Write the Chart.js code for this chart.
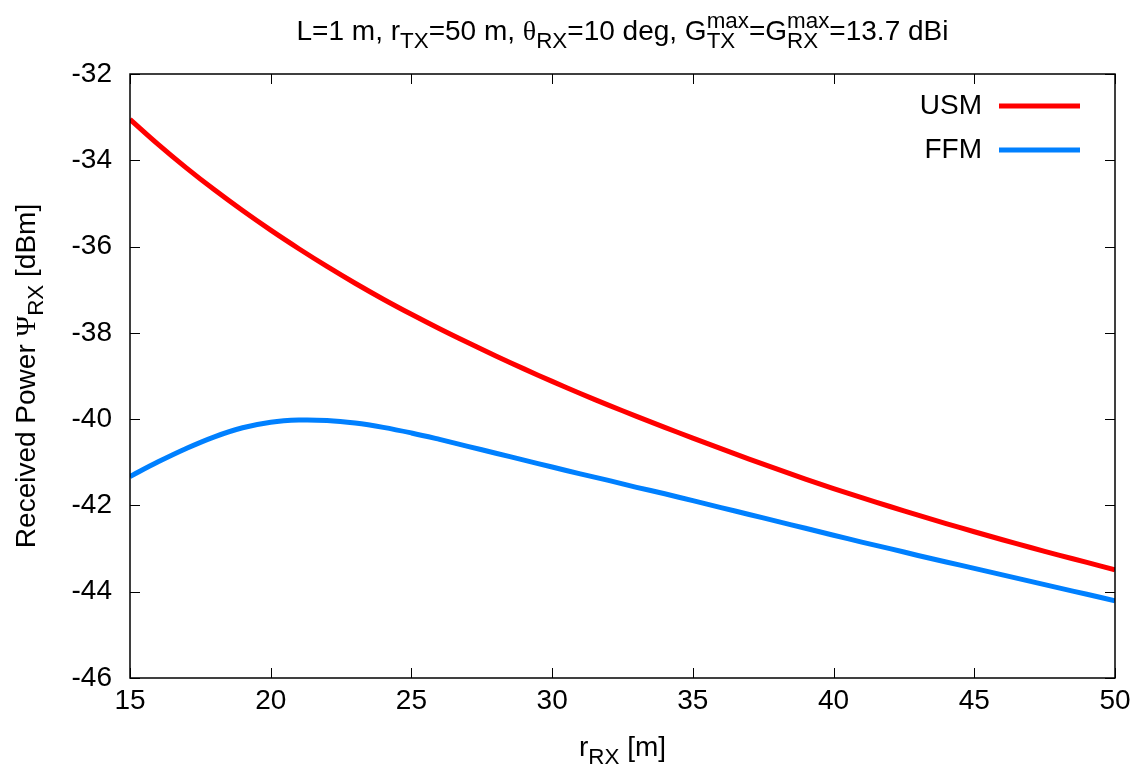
<!DOCTYPE html>
<html>
<head>
<meta charset="utf-8">
<script src="https://cdn.jsdelivr.net/npm/chart.js@4.4.1/dist/chart.umd.min.js"></script>
<style>
  html, body { margin:0; padding:0; background:#fff; }
  #wrap { width:1142px; height:771px; }
</style>
</head>
<body>
<div id="wrap"><canvas id="c" width="1142" height="771"></canvas></div>
<script>
// receiver distance r_RX [m]
const rxDist = [15,16,17,18,19,20,21,22,23,24,25,26,27,28,29,30,31,32,33,34,35,36,37,38,39,40,41,42,43,44,45,46,47,48,49,50];
// USM received power [dBm]
const usmPower = [-33.05,-33.63,-34.175,-34.685,-35.165,-35.62,-36.05,-36.46,-36.85,-37.22,-37.57,-37.905,-38.225,-38.535,-38.835,-39.125,
  -39.405,-39.675,-39.935,-40.19,-40.44,-40.685,-40.925,-41.16,-41.39,-41.61,-41.82,-42.025,-42.225,-42.42,-42.61,-42.795,-42.975,-43.15,-43.32,-43.49];
// FFM received power [dBm]
const ffmPower = [-41.33,-40.99,-40.68,-40.41,-40.20,-40.07,-40.02,-40.03,-40.09,-40.19,-40.32,-40.47,-40.63,-40.79,-40.95,-41.11,
  -41.27,-41.42,-41.58,-41.73,-41.89,-42.05,-42.21,-42.37,-42.53,-42.69,-42.85,-43.00,-43.16,-43.31,-43.46,-43.61,-43.76,-43.91,-44.06,-44.21];
const xTicks = [15,20,25,30,35,40,45,50];
const yTicks = [-32,-34,-36,-38,-40,-42,-44,-46];

const FONT = '"Liberation Sans", Arial, Helvetica, sans-serif';
const GREEK = '"Liberation Serif", "DejaVu Serif", serif';
const FS = 28;

// rich text pieces: {t}, {sub}, {sup}, {sup, sub}; g = greek font
const titleParts = [{t:'L=1 m, r'},{sub:'TX'},{t:'=50 m, '},{t:'θ',g:1},{sub:'RX'},{t:'=10 deg, G'},
  {sup:'max',sub:'TX'},{t:'=G'},{sup:'max',sub:'RX'},{t:'=13.7 dBi'}];
const yTitleParts = [{t:'Received Power '},{t:'Ψ',g:1},{sub:'RX'},{t:' [dBm]'}];
const xTitleParts = [{t:'r'},{sub:'RX'},{t:' [m]'}];

function fnt(size, g){ return `${size}px ${g ? GREEK : FONT}`; }

function measureParts(ctx, parts, fs){
  let w = 0;
  parts.forEach(p => {
    if(p.t){ ctx.font = fnt(fs, p.g); w += ctx.measureText(p.t).width; }
    let sw = 0;
    ctx.font = fnt(fs*0.8);
    if(p.sub) sw = Math.max(sw, ctx.measureText(p.sub).width);
    if(p.sup) sw = Math.max(sw, ctx.measureText(p.sup).width);
    w += sw;
  });
  return w;
}

function drawRich(ctx, parts, x, y, fs){
  // x is the centre, y the baseline
  let cx = x - measureParts(ctx, parts, fs)/2;
  ctx.textAlign = 'left';
  ctx.textBaseline = 'alphabetic';
  parts.forEach(p => {
    if(p.t){
      ctx.font = fnt(fs, p.g);
      ctx.fillText(p.t, cx, y);
      cx += ctx.measureText(p.t).width;
    }
    ctx.font = fnt(fs*0.8);
    let sw = 0;
    if(p.sub){ ctx.fillText(p.sub, cx, y + fs*0.3); sw = Math.max(sw, ctx.measureText(p.sub).width); }
    if(p.sup){ ctx.fillText(p.sup, cx, y - fs*0.42); sw = Math.max(sw, ctx.measureText(p.sup).width); }
    cx += sw;
  });
}

const framePlugin = {
  id: 'frame',
  afterDraw(chart){
    const {ctx, chartArea:a, scales:{x, y}} = chart;
    ctx.save();
    ctx.strokeStyle = '#000';
    ctx.lineWidth = 1.5;
    ctx.strokeRect(a.left, a.top, a.right - a.left, a.bottom - a.top);
    const tl = 10;
    ctx.beginPath();
    xTicks.forEach(v => {
      const px = Math.round(x.getPixelForValue(v)) + 0.5;
      ctx.moveTo(px, a.bottom); ctx.lineTo(px, a.bottom - tl);
      ctx.moveTo(px, a.top); ctx.lineTo(px, a.top + tl);
    });
    yTicks.forEach(v => {
      const py = Math.round(y.getPixelForValue(v)) + 0.5;
      ctx.moveTo(a.left, py); ctx.lineTo(a.left + tl, py);
      ctx.moveTo(a.right, py); ctx.lineTo(a.right - tl, py);
    });
    ctx.lineWidth = 1;
    ctx.stroke();

    ctx.fillStyle = '#000';
    drawRich(ctx, titleParts, (a.left + a.right)/2, 40, FS);
    drawRich(ctx, xTitleParts, (a.left + a.right)/2, 756, FS);
    ctx.save();
    ctx.translate(35, (a.top + a.bottom)/2);
    ctx.rotate(-Math.PI/2);
    drawRich(ctx, yTitleParts, 0, 0, FS);
    ctx.restore();

    // legend, top right inside the frame
    chart.data.datasets.forEach((ds, i) => {
      const ly = 106 + i*44;
      ctx.font = fnt(FS);
      ctx.textAlign = 'right';
      ctx.textBaseline = 'middle';
      ctx.fillText(ds.label, 982, ly);
      ctx.beginPath();
      ctx.strokeStyle = ds.borderColor;
      ctx.lineWidth = 5;
      ctx.moveTo(999, ly); ctx.lineTo(1080, ly);
      ctx.stroke();
    });
    ctx.restore();
  }
};

new Chart(document.getElementById('c'), {
  type: 'line',
  data: {
    labels: rxDist,
    datasets: [
      { label:'USM', data: rxDist.map((r,i)=>({x:r, y:usmPower[i]})), borderColor:'#ff0000', borderWidth:5,
        pointRadius:0, tension:0.4, fill:false },
      { label:'FFM', data: rxDist.map((r,i)=>({x:r, y:ffmPower[i]})), borderColor:'#0080ff', borderWidth:5,
        pointRadius:0, tension:0.4, fill:false }
    ]
  },
  options: {
    responsive: false,
    animation: false,
    devicePixelRatio: 1,
    layout: { padding: { top: 74, right: 27, left: 0, bottom: 0 } },
    plugins: { legend: { display:false }, title: { display:false }, tooltip: { enabled:false } },
    scales: {
      x: {
        type: 'linear', min: 15, max: 50,
        afterBuildTicks: s => { s.ticks = xTicks.map(v => ({value:v})); },
        afterFit: s => { s.height = 93; },
        grid: { display:false, drawTicks:false },
        border: { display:false },
        ticks: { color:'#000', font:{ family: FONT, size: FS }, padding: 6, maxRotation:0 }
      },
      y: {
        type: 'linear', min: -46, max: -32,
        afterBuildTicks: s => { s.ticks = yTicks.map(v => ({value:v})); },
        afterFit: s => { s.width = 130; },
        grid: { display:false, drawTicks:false },
        border: { display:false },
        ticks: { color:'#000', font:{ family: FONT, size: FS }, padding: 18 }
      }
    }
  },
  plugins: [framePlugin]
});
</script>
</body>
</html>
